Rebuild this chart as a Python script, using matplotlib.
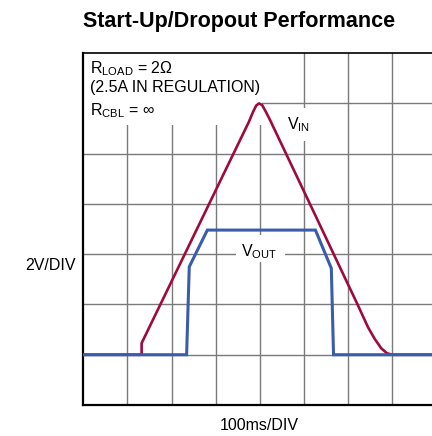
import matplotlib
matplotlib.use("Agg")
import matplotlib.pyplot as plt
from matplotlib.patches import Rectangle

plt.rcParams['font.family'] = ['Liberation Sans', 'DejaVu Sans']

# curvas (divisiones)
vin_t = [0, 1.32, 1.32, 3.75, 3.85, 3.92, 3.98, 4.05, 4.12, 4.22, 5.20, 6.22, 6.45, 6.60, 6.75, 6.88, 7.0, 8.0]
vin_v = [1.0, 1.0, 1.23, 5.63, 5.84, 5.96, 6.00, 5.97, 5.86, 5.69, 3.88, 1.99, 1.55, 1.32, 1.13, 1.03, 1.0, 1.0]

vout_t = [0, 2.34, 2.40, 2.81, 5.26, 5.62, 5.67, 8.0]
vout_v = [1.0, 1.0, 2.75, 3.48, 3.48, 2.72, 1.0, 1.0]

color_vin = '#9e0b3a'
color_vout = '#3a5cad'

fig = plt.figure(figsize=(4.32, 4.36), dpi=100)
ax = fig.add_axes([0.193, 0.0711, 0.817, 0.807])
ax.set_xlim(0, 8)
ax.set_ylim(0, 7)

# rejilla
for i in range(1, 8):
    ax.axvline(i, color='#7a7a7a', lw=1.0, zorder=1)
for j in range(1, 7):
    ax.axhline(j, color='#7a7a7a', lw=1.0, zorder=1)

# recuadros blancos detras de los textos
ax.add_patch(Rectangle((0, 5.57), 4.04, 1.43, facecolor='white', edgecolor='none', zorder=2))
ax.add_patch(Rectangle((3.45, 2.84), 1.11, 0.54, facecolor='white', edgecolor='none', zorder=2))
ax.add_patch(Rectangle((4.55, 5.26), 0.55, 0.64, facecolor='white', edgecolor='none', zorder=2))

ax.plot(vin_t, vin_v, color=color_vin, lw=1.9, zorder=3, solid_joinstyle='round')
ax.plot(vout_t, vout_v, color=color_vout, lw=2.2, zorder=4, solid_joinstyle='miter')

fs = 11.5
ax.text(0.15, 6.60, r'R$_{\mathregular{LOAD}}$ = 2Ω', fontsize=fs, va='baseline', zorder=5)
ax.text(0.15, 6.22, '(2.5A IN REGULATION)', fontsize=fs, va='baseline', zorder=5)
ax.text(0.15, 5.77, r'R$_{\mathregular{CBL}}$ = ∞', fontsize=fs, va='baseline', zorder=5)
ax.text(4.62, 5.49, r'V$_{\mathregular{IN}}$', fontsize=fs, va='baseline', zorder=5)
ax.text(3.99, 2.95, r'V$_{\mathregular{OUT}}$', fontsize=fs, va='baseline', ha='center', zorder=5)

ax.set_xticks([])
ax.set_yticks([])
for s in ['left', 'bottom']:
    ax.spines[s].set_linewidth(1.6)
ax.spines['top'].set_linewidth(1.2)
ax.spines['right'].set_linewidth(1.2)

fig.text(0.116, 0.392, '2V/DIV', fontsize=fs, ha='center', va='center')
fig.text(0.6, 0.025, '100ms/DIV', fontsize=fs, ha='center', va='center')
fig.text(0.192, 0.95, 'Start-Up/Dropout Performance', fontsize=15.5, fontweight='bold',
         ha='left', va='center')

fig.savefig('out.png', dpi=100)
